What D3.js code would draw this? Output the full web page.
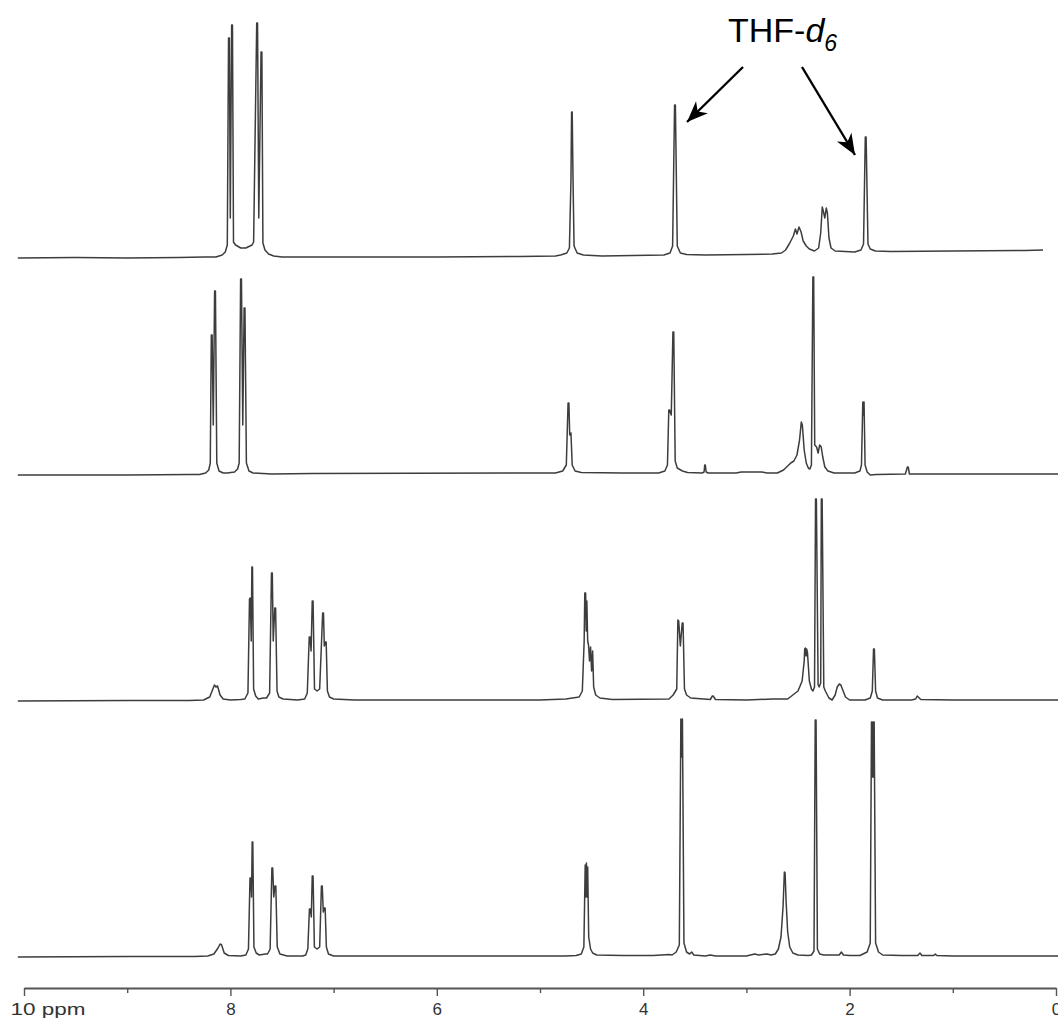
<!DOCTYPE html>
<html>
<head>
<meta charset="utf-8">
<script src="https://cdn.jsdelivr.net/npm/d3@7"></script>
<style>
  body { margin: 0; background: #fff; }
  svg { display: block; font-family: "Liberation Sans", Arial, sans-serif; }
</style>
</head>
<body>
<div id="plot"></div>
<script>
// chemical shift axis
const majorTicks = [10, 8, 6, 4, 2, 0];
const minorTicks = [9, 7, 5, 3, 1];
const tickLabels = ["10 ppm", "8", "6", "4", "2", "0"];

// spectra, top to bottom: [ppm, intensity]
const spectrumA = [
  [10.06, 0], [9.5, 0.5], [9.0, 0], [8.5, 0.5], [8.25, 1],
  [8.14, 1], [8.08, 3], [8.05, 6], [8.03, 13], [8.018, 220], [8.010, 220], [8.001, 40],
  [7.988, 233], [7.980, 233], [7.970, 16], [7.95, 13], [7.90, 10], [7.85, 10], [7.79, 13],
  [7.775, 16], [7.745, 235], [7.737, 235], [7.725, 40], [7.703, 206], [7.695, 206],
  [7.685, 15], [7.665, 8], [7.63, 4], [7.58, 2], [7.50, 1],
  [7.0, 1], [6.0, 1], [5.2, 1.5], [4.85, 2],
  [4.80, 3], [4.74, 5], [4.715, 10], [4.700, 78], [4.694, 146], [4.688, 146], [4.680, 78],
  [4.670, 12], [4.64, 5], [4.58, 3], [4.4, 2],
  [3.80, 3], [3.74, 5], [3.715, 12], [3.696, 153], [3.688, 153], [3.670, 12], [3.64, 5],
  [3.58, 3.5], [3.4, 3], [3.0, 3.5], [2.75, 4],
  [2.66, 5], [2.62, 8], [2.58, 15], [2.545, 22], [2.525, 29], [2.51, 24], [2.49, 31],
  [2.47, 26], [2.45, 17], [2.42, 12], [2.39, 9], [2.34, 7], [2.30, 10], [2.28, 25],
  [2.265, 51], [2.255, 47], [2.24, 40], [2.226, 50], [2.215, 45], [2.20, 20], [2.18, 10],
  [2.14, 7], [1.95, 6], [1.89, 8], [1.865, 14], [1.848, 121], [1.840, 121], [1.822, 14],
  [1.80, 9], [1.75, 7], [1.6, 6.5], [1.0, 7], [0.3, 7.5], [0.126, 8]
];

const spectrumB = [
  [10.06, 0], [9.0, 0], [8.4, 0.5],
  [8.30, 0.5], [8.24, 2], [8.21, 5], [8.195, 12], [8.185, 140], [8.177, 140], [8.166, 50],
  [8.153, 184], [8.145, 184], [8.132, 12], [8.11, 4], [8.07, 2], [8.03, 2],
  [7.96, 3], [7.93, 6], [7.915, 12], [7.901, 196], [7.893, 196], [7.880, 50],
  [7.867, 167], [7.859, 167], [7.845, 12], [7.82, 4], [7.78, 2], [7.6, 1], [7.2, 1.5],
  [4.85, 2], [4.78, 4], [4.745, 10], [4.728, 72], [4.720, 72], [4.712, 40], [4.700, 42],
  [4.688, 10], [4.66, 4], [4.6, 2.5], [4.2, 2],
  [3.85, 2], [3.79, 4], [3.765, 10], [3.752, 65], [3.744, 65], [3.728, 60], [3.712, 143],
  [3.704, 143], [3.690, 14], [3.67, 7], [3.62, 4], [3.57, 2.5],
  [3.43, 2], [3.41, 3], [3.404, 10], [3.398, 10], [3.39, 3], [3.37, 2],
  [3.1, 2], [3.05, 3], [2.85, 3], [2.80, 2],
  [2.70, 2], [2.64, 5], [2.60, 9], [2.57, 12], [2.54, 14], [2.51, 20], [2.485, 35],
  [2.468, 53], [2.458, 50], [2.44, 25], [2.42, 12], [2.40, 7], [2.385, 6], [2.37, 10],
  [2.356, 198], [2.348, 198], [2.338, 30], [2.32, 28], [2.305, 22], [2.29, 30],
  [2.275, 28], [2.26, 18], [2.24, 8], [2.21, 4], [2.15, 2],
  [1.95, 2], [1.90, 4], [1.885, 10], [1.872, 73], [1.866, 60], [1.860, 73], [1.850, 10],
  [1.83, 3], [1.80, 0], [1.74, 0.5], [1.46, 1], [1.44, 8], [1.432, 8], [1.42, 1],
  [1.2, 1], [0.5, 1], [-0.02, 1]
];

const spectrumC = [
  [10.06, 0], [9.0, 0.5], [8.4, 0.5],
  [8.26, 1], [8.20, 4], [8.17, 12], [8.155, 16], [8.14, 14], [8.125, 15], [8.10, 6],
  [8.07, 2], [8.0, 1], [7.9, 1.5],
  [7.86, 2], [7.83, 8], [7.815, 102], [7.807, 103], [7.798, 60], [7.792, 134],
  [7.786, 134], [7.775, 12], [7.755, 5], [7.73, 2], [7.68, 3],
  [7.65, 3], [7.62, 8], [7.602, 128], [7.594, 128], [7.585, 60], [7.570, 93],
  [7.562, 93], [7.548, 10], [7.53, 4], [7.49, 2], [7.35, 1],
  [7.28, 2], [7.255, 8], [7.236, 64], [7.228, 64], [7.218, 50], [7.207, 100],
  [7.199, 100], [7.185, 12], [7.16, 10],
  [7.135, 12], [7.106, 88], [7.098, 88], [7.090, 55], [7.080, 59], [7.072, 59],
  [7.060, 10], [7.04, 4], [7.0, 2], [6.8, 1],
  [6.0, 1], [5.0, 1], [4.75, 2],
  [4.62, 4], [4.59, 10], [4.572, 60], [4.566, 108], [4.558, 108], [4.552, 70],
  [4.546, 100], [4.538, 60], [4.53, 56], [4.52, 40], [4.51, 54], [4.50, 30],
  [4.49, 50], [4.48, 14], [4.46, 6], [4.42, 3], [4.3, 1.5],
  [3.75, 2], [3.71, 6], [3.675, 12], [3.664, 81], [3.656, 80], [3.640, 55], [3.622, 78],
  [3.614, 78], [3.60, 12], [3.58, 6], [3.54, 3],
  [3.35, 1.5], [3.330, 5], [3.322, 5], [3.30, 1.5], [3.0, 1], [2.75, 2],
  [2.60, 2], [2.55, 6], [2.50, 10], [2.46, 20], [2.44, 40], [2.435, 52], [2.428, 53],
  [2.422, 45], [2.416, 52], [2.408, 48], [2.39, 20], [2.37, 12], [2.355, 10],
  [2.340, 14], [2.330, 202], [2.322, 202], [2.305, 16], [2.295, 14], [2.280, 18],
  [2.274, 202], [2.266, 202], [2.250, 14], [2.235, 10], [2.20, 3], [2.17, 1],
  [2.14, 6], [2.12, 14], [2.10, 17], [2.085, 16], [2.07, 12], [2.04, 4], [2.00, 1],
  [1.85, 1], [1.80, 3], [1.78, 10], [1.768, 52], [1.760, 52], [1.748, 10], [1.73, 3],
  [1.68, 1], [1.40, 1], [1.36, 2], [1.345, 5], [1.335, 4], [1.31, 1.5],
  [1.0, 1], [-0.02, 1]
];

const spectrumD = [
  [10.06, 0], [9.0, 0.5], [8.35, 0.5],
  [8.22, 1], [8.16, 3], [8.12, 9], [8.10, 13], [8.085, 12], [8.06, 4], [8.02, 1.5],
  [7.9, 1],
  [7.85, 2], [7.825, 8], [7.810, 79], [7.802, 79], [7.795, 60], [7.789, 115],
  [7.783, 115], [7.772, 10], [7.75, 4], [7.72, 2], [7.66, 3],
  [7.64, 3], [7.615, 8], [7.598, 89], [7.590, 89], [7.580, 60], [7.568, 71],
  [7.560, 71], [7.546, 10], [7.52, 3], [7.45, 1], [7.30, 1],
  [7.27, 2], [7.25, 8], [7.234, 48], [7.226, 48], [7.216, 40], [7.207, 81],
  [7.199, 81], [7.186, 10], [7.16, 8],
  [7.135, 10], [7.118, 71], [7.110, 71], [7.100, 45], [7.090, 49], [7.082, 49],
  [7.070, 10], [7.05, 3], [7.0, 1],
  [6.0, 1], [5.0, 1], [4.75, 1],
  [4.65, 1.5], [4.60, 3], [4.575, 10], [4.562, 92], [4.556, 60], [4.550, 94],
  [4.544, 60], [4.538, 90], [4.528, 20], [4.51, 8], [4.49, 4], [4.45, 2], [4.2, 1.5],
  [3.9, 1.5], [3.75, 2.5],
  [3.72, 2], [3.68, 5], [3.65, 12], [3.635, 238], [3.628, 200], [3.620, 238], [3.605, 14],
  [3.58, 5], [3.55, 3], [3.53, 5], [3.51, 2], [3.40, 1], [3.35, 2], [3.30, 1],
  [3.0, 1], [2.92, 3], [2.88, 2], [2.80, 3], [2.76, 2],
  [2.72, 3], [2.69, 8], [2.665, 20], [2.645, 50], [2.632, 85], [2.625, 84],
  [2.615, 55], [2.60, 25], [2.58, 10], [2.55, 4], [2.50, 2], [2.40, 1.5],
  [2.37, 2], [2.345, 6], [2.333, 237], [2.325, 237], [2.312, 8], [2.29, 3],
  [2.25, 2], [2.12, 2], [2.10, 2], [2.08, 5], [2.06, 2], [2.0, 1.5],
  [1.90, 1.5], [1.83, 5], [1.80, 14], [1.788, 235], [1.783, 180], [1.779, 235],
  [1.775, 180], [1.771, 235], [1.766, 180], [1.762, 235], [1.748, 14],
  [1.72, 5], [1.68, 2], [1.5, 1.5], [1.34, 1.5], [1.318, 4], [1.30, 1.5],
  [1.185, 1.5], [1.17, 3], [1.155, 1.5], [1.0, 1], [-0.02, 1]
];

const spectra = [spectrumA, spectrumB, spectrumC, spectrumD];
const baselines = [258, 475, 701, 957];

const solventLabel = "THF-";
const solventIso = "d";
const solventSub = "6";

const width = 1058, height = 1019;

const svg = d3.select("#plot")
  .append("svg")
    .attr("width", width)
    .attr("height", height);

const x = d3.scaleLinear()
  .domain([10, 0])
  .range([24, 1056]);

const y = d3.scaleLinear()
  .domain([0, 240])
  .range([0, 240]);

// traces
spectra.forEach((s, i) => {
  const line = d3.line()
    .x(d => x(d[0]))
    .y(d => baselines[i] - y(d[1]));
  svg.append("path")
    .datum(s)
    .attr("d", line)
    .attr("fill", "none")
    .attr("stroke", "#3d3d3d")
    .attr("stroke-width", 1.5)
    .attr("stroke-linejoin", "round");
});

// axis
const axisY = 988;
svg.append("g")
  .attr("transform", `translate(0,${axisY})`)
  .call(d3.axisBottom(x).tickValues(minorTicks).tickSize(5).tickFormat(""))
  .call(g => g.select(".domain").remove())
  .selectAll("line").attr("stroke", "#555").attr("stroke-width", 1.4);

const ax = svg.append("g")
  .attr("transform", `translate(0,${axisY})`)
  .call(d3.axisBottom(x)
    .tickValues(majorTicks)
    .tickSize(8)
    .tickSizeOuter(0)
    .tickFormat((d, i) => tickLabels[i]));
ax.select(".domain").attr("stroke", "#555").attr("stroke-width", 1.8);
ax.selectAll(".tick line").attr("stroke", "#555").attr("stroke-width", 1.4);
ax.selectAll(".tick text")
  .attr("fill", "#333")
  .attr("font-size", 17)
  .attr("font-family", "'Liberation Sans', Arial, sans-serif")
  .attr("dy", null)
  .attr("y", 27)
  .filter(d => d === 10)
    .attr("text-anchor", "start")
    .attr("x", -14)
    .attr("textLength", 75)
    .attr("lengthAdjust", "spacingAndGlyphs");

// solvent annotation
const defs = svg.append("defs");
defs.append("marker")
  .attr("id", "head")
  .attr("markerUnits", "userSpaceOnUse")
  .attr("viewBox", "-22 -10 24 20")
  .attr("markerWidth", 24)
  .attr("markerHeight", 20)
  .attr("refX", 0)
  .attr("refY", 0)
  .attr("orient", "auto")
  .append("path")
    .attr("d", "M0,0 L-21,-8.5 L-15,0 L-21,8.5 Z")
    .attr("fill", "#000");

const label = svg.append("text")
  .attr("x", 728)
  .attr("y", 42)
  .attr("font-size", 34)
  .attr("fill", "#000");
label.append("tspan").text(solventLabel);
label.append("tspan").attr("font-style", "italic").text(solventIso);
label.append("tspan").attr("font-style", "italic").attr("font-size", 23)
  .attr("dy", 9).text(solventSub);

const arrows = [
  [[743, 67], [687, 122]],
  [[802, 67], [855, 155]]
];
arrows.forEach(a => {
  svg.append("line")
    .attr("x1", a[0][0]).attr("y1", a[0][1])
    .attr("x2", a[1][0]).attr("y2", a[1][1])
    .attr("stroke", "#000")
    .attr("stroke-width", 2.4)
    .attr("marker-end", "url(#head)");
});
</script>
</body>
</html>
